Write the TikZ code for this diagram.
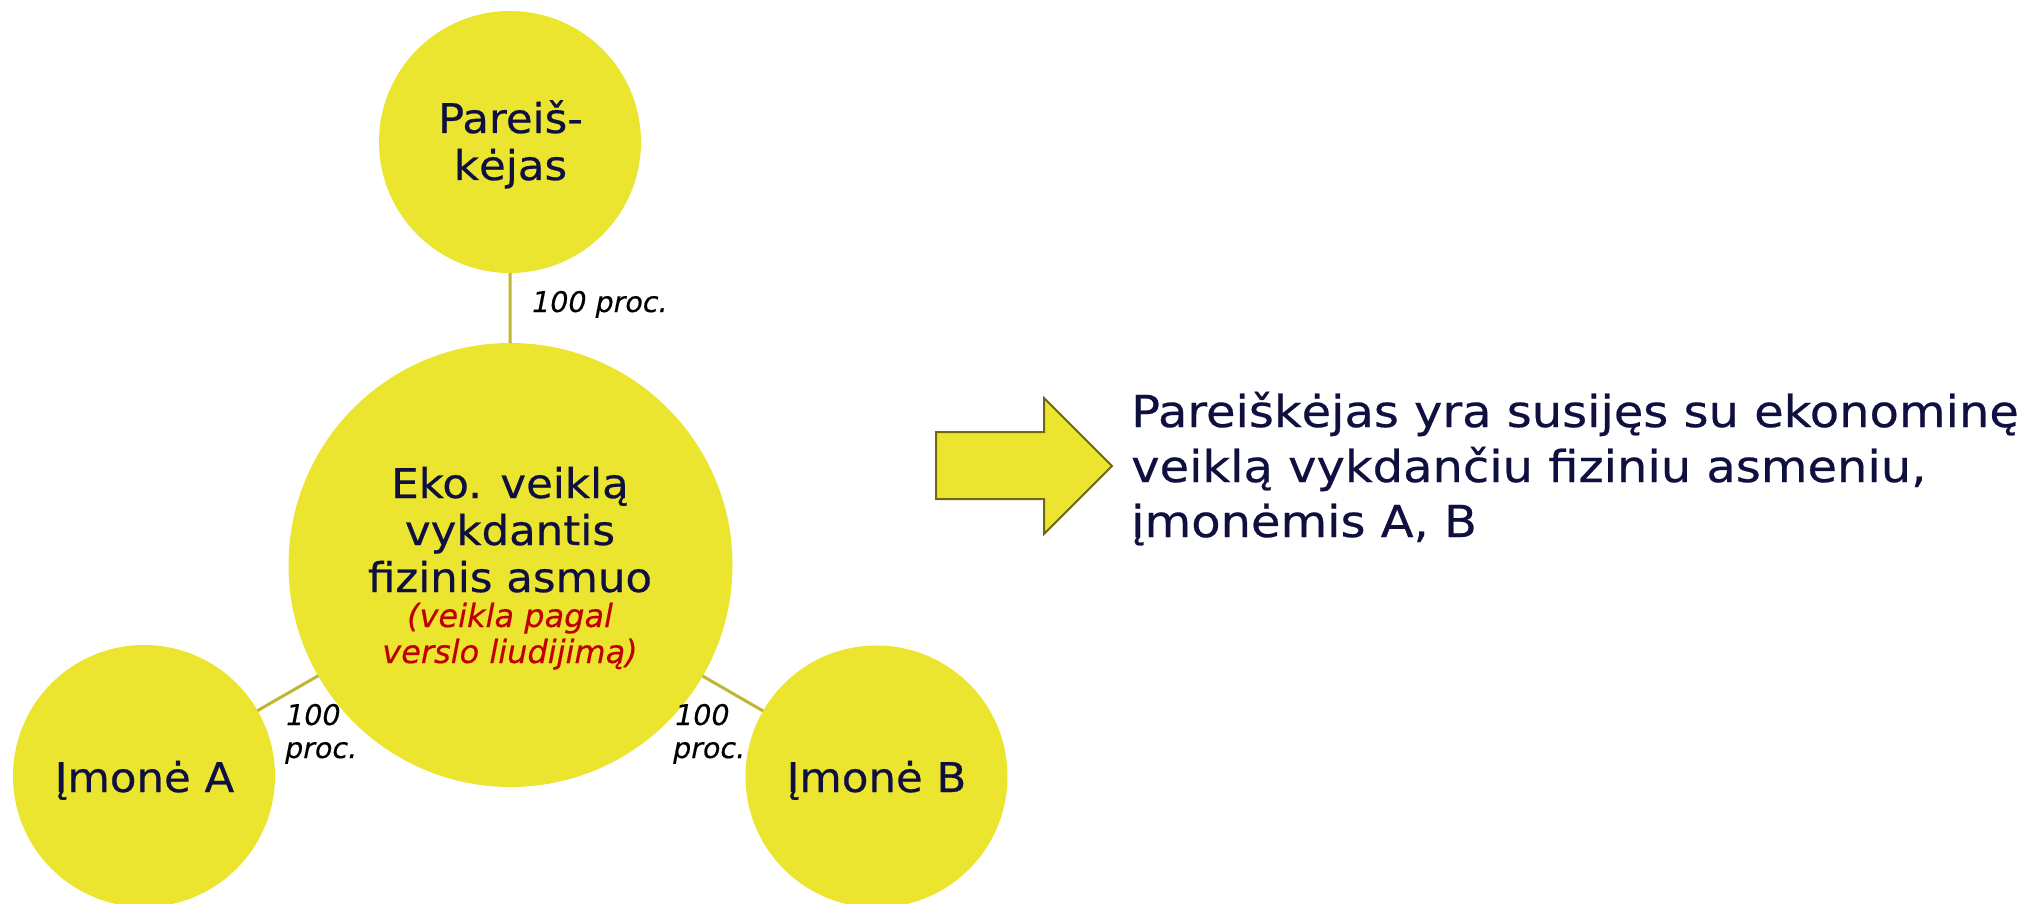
\documentclass[tikz,border=0pt]{standalone}
\usepackage{fontspec}
\setmainfont{DejaVu Sans}[FakeStretch=1.06, FakeBold=0.5]
\newfontfamily\plainfont{DejaVu Sans}[FakeBold=0.4]
\newfontfamily\sidefont{DejaVu Sans}[FakeStretch=1.09, FakeBold=0.5]
\definecolor{bubblefill}{RGB}{236,229,48}
\definecolor{navy}{RGB}{16,16,64}
\definecolor{redtxt}{RGB}{192,0,0}
\definecolor{connline}{RGB}{190,182,52}
\definecolor{arrowline}{RGB}{110,104,18}
\tikzset{
  bubble/.style={circle, fill=bubblefill, draw=none, inner sep=0pt, outer sep=0pt},
  maintxt/.style={text=navy, inner sep=0pt, font=\fontsize{41}{47}\selectfont},
  redtext/.style={text=redtxt, inner sep=0pt, font=\plainfont\fontsize{32}{36}\selectfont\itshape},
  lbl/.style={text=black, inner sep=0pt, font=\plainfont\fontsize{28.5}{33}\selectfont\itshape},
  sidetxt/.style={text=navy, inner sep=0pt, anchor=base west, font=\sidefont\fontsize{44}{55}\selectfont},
  conn/.style={draw=connline, line width=3pt},
  bigarrow/.style={fill=bubblefill, draw=arrowline, line width=2pt, line join=miter}
}
\begin{document}
\begin{tikzpicture}[x=1pt,y=-1pt]
\useasboundingbox (0,0) rectangle (2033,904);
\clip (0,0) rectangle (2033,904);
% circles
\node[bubble, minimum size=262pt] (app) at (510,142) {};
\node[bubble, minimum size=444pt] (main) at (510.5,565) {};
\node[bubble, minimum size=262pt] (ia) at (144,776) {};
\node[bubble, minimum size=262pt] (ib) at (876.5,776.5) {};
% connectors
\draw[conn] (app) -- (main);
\draw[conn] (main) -- (ia);
\draw[conn] (main) -- (ib);
% circle texts
\node[maintxt, anchor=base] (app1) at (510.5,133) {Pareiš-};
\node[maintxt, anchor=base] (app2) at (510.5,180) {kėjas};
\node[maintxt, anchor=base] (m1) at (510,498) {Eko. veiklą};
\node[maintxt, anchor=base] (m2) at (510,545) {vykdantis};
\node[maintxt, anchor=base] (m3) at (510,592) {fizinis asmuo};
\node[redtext, anchor=base] (m4) at (510,627) {(veikla pagal};
\node[redtext, anchor=base] (m5) at (510,663) {verslo liudijimą)};
\node[maintxt, anchor=base] (iat) at (144.5,792) {Įmonė A};
\node[maintxt, anchor=base] (ibt) at (876.5,792) {Įmonė B};
% percentage labels
\node[lbl, anchor=base west] (l1) at (532,312) {100 proc.};
\node[lbl, anchor=base west] (l2a) at (286,725) {100};
\node[lbl, anchor=base west] (l2b) at (285,758) {proc.};
\node[lbl, anchor=base west] (l3a) at (675,725) {100};
\node[lbl, anchor=base west] (l3b) at (673,758) {proc.};
% block arrow
\draw[bigarrow] (936,432) -- (1044,432) -- (1044,398) -- (1112,466) -- (1044,534) -- (1044,499) -- (936,499) -- cycle;
% side text
\node[sidetxt] (s1) at (1131,427) {Pareiškėjas yra susijęs su ekonominę};
\node[sidetxt] (s2) at (1131,482) {veiklą vykdančiu fiziniu asmeniu,};
\node[sidetxt] (s3) at (1131,537) {įmonėmis A, B};
\end{tikzpicture}
\end{document}
